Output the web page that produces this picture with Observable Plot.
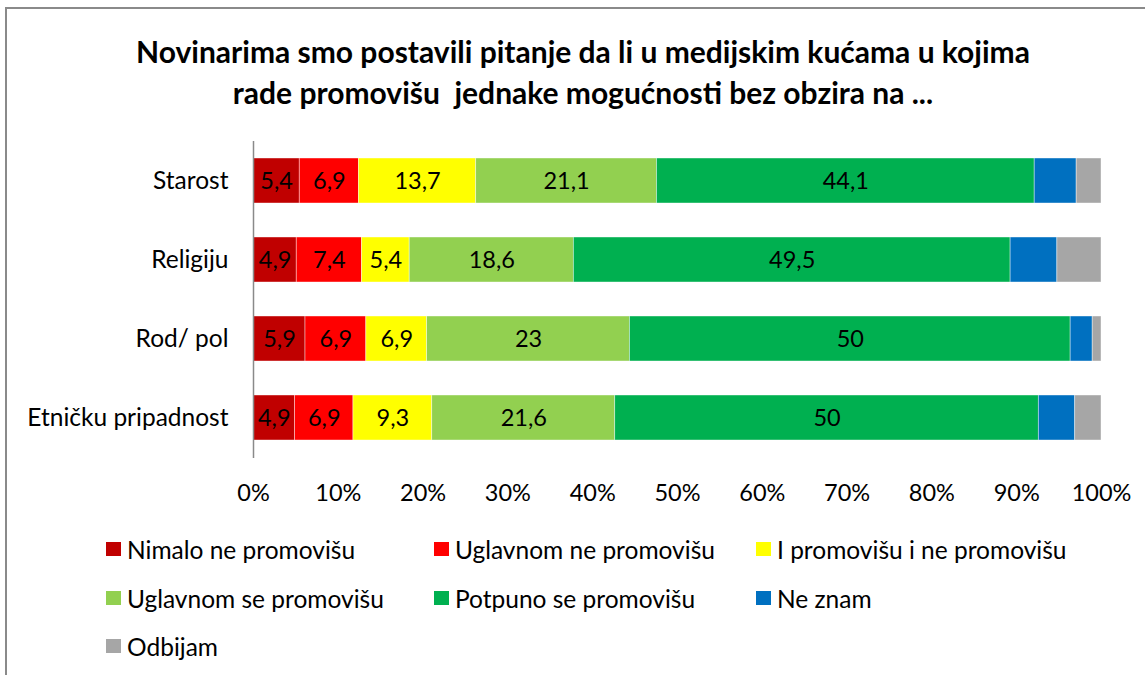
<!DOCTYPE html>
<html>
<head>
<meta charset="utf-8">
<script src="https://cdn.jsdelivr.net/npm/d3@7"></script>
<script src="https://cdn.jsdelivr.net/npm/@observablehq/plot@0.6"></script>
<style>
  html, body { margin: 0; padding: 0; background: #fff; }
  #wrap { position: relative; width: 1145px; height: 675px; overflow: hidden; font-family: Lato, "Open Sans", sans-serif; }
  #frame { position: absolute; left: 5px; top: 7px; right: -10px; bottom: -10px; border-top: 2px solid #8a8a8a; border-left: 2px solid #8a8a8a; }
  #title { position: absolute; left: 0; width: 1166px; top: 31px; text-align: center; font-weight: bold; font-size: 30px; line-height: 41px; color: #000; }
  #chart { position: absolute; left: 0; top: 120px; }
  #legend { position: absolute; left: 0; top: 530px; width: 1145px; }
  .item { position: absolute; display: flex; align-items: center; font-size: 24.5px; height: 30px; color: #000; white-space: nowrap; }
  .sw { width: 15px; height: 14px; margin-right: 6px; }
</style>
</head>
<body>
<div id="wrap">
  <div id="frame"></div>
  <div id="title">Novinarima smo postavili pitanje da li u medijskim kućama u kojima<br>rade promovišu&nbsp; jednake mogućnosti bez obzira na ...</div>
  <div id="chart"></div>
  <div id="legend"></div>
</div>
<script>
const categories = ["Starost", "Religiju", "Rod/ pol", "Etničku pripadnost"];
const series = ["Nimalo ne promovišu", "Uglavnom ne promovišu", "I promovišu i ne promovišu", "Uglavnom se promovišu", "Potpuno se promovišu", "Ne znam", "Odbijam"];
const colors = ["#C00000", "#FF0000", "#FFFF00", "#92D050", "#00B050", "#0070C0", "#A6A6A6"];
const labeled = [true, true, true, true, true, false, false];

const nimalo    = [5.4, 4.9, 5.9, 4.9];
const uglavnomNe = [6.9, 7.4, 6.9, 6.9];
const iPromovisu = [13.7, 5.4, 6.9, 9.3];
const uglavnomSe = [21.1, 18.6, 23, 21.6];
const potpuno   = [44.1, 49.5, 50, 50];
const neZnam    = [4.9, 5.3, 2.5, 4.3];
const odbijam   = [2.9, 5.0, 1.0, 3.1];
const seriesValues = [nimalo, uglavnomNe, iPromovisu, uglavnomSe, potpuno, neZnam, odbijam];

const xTicks = [0, 0.1, 0.2, 0.3, 0.4, 0.5, 0.6, 0.7, 0.8, 0.9, 1];

const data = [];
categories.forEach((c, ci) => {
  series.forEach((s, si) => {
    data.push({category: c, series: s, value: seriesValues[si][ci], label: labeled[si]});
  });
});

const fmt = v => String(v).replace(".", ",");

const plot = Plot.plot({
  width: 1145,
  height: 400,
  marginLeft: 253,
  marginRight: 44,
  marginTop: 21,
  marginBottom: 62,
  style: {fontFamily: "Lato, 'Open Sans', sans-serif", fontSize: "23.5px", color: "#000", background: "transparent"},
  x: {domain: [0, 1], ticks: xTicks, tickFormat: d3.format(".0%"), label: null},
  y: {domain: categories, paddingInner: 0.43, paddingOuter: 0.215, label: null},
  color: {domain: series, range: colors},
  marks: [
    Plot.barX(data, Plot.stackX({
      x: "value", y: "category", z: "series", fill: "series",
      offset: "normalize", stroke: "#fff", strokeWidth: 0.7, strokeOpacity: 0.6
    })),
    Plot.text(data, Plot.stackX({
      x: "value", y: "category", z: "series",
      offset: "normalize",
      text: d => d.label ? fmt(d.value) : null,
      fill: "#000", fontSize: 23.5
    })),
    Plot.ruleX([0], {stroke: "#8a8a8a", strokeWidth: 1.5}),
    Plot.axisX({ticks: xTicks, tickFormat: d3.format(".0%"), tickSize: 0, tickPadding: 26, fontSize: 23.5, label: null}),
    Plot.axisY({tickSize: 0, tickPadding: 25, fontSize: 24.5, label: null})
  ]
});
document.getElementById("chart").appendChild(plot);

const legendPos = [
  [106, 549], [434, 549], [756, 549],
  [106, 598], [434, 598], [756, 598],
  [106, 646]
];
const legend = document.getElementById("legend");
series.forEach((s, i) => {
  const el = document.createElement("div");
  el.className = "item";
  el.style.left = legendPos[i][0] + "px";
  el.style.top = (legendPos[i][1] - 530 - 15) + "px";
  el.innerHTML = `<span class="sw" style="background:${colors[i]}"></span><span>${s}</span>`;
  legend.appendChild(el);
});
</script>
</body>
</html>
